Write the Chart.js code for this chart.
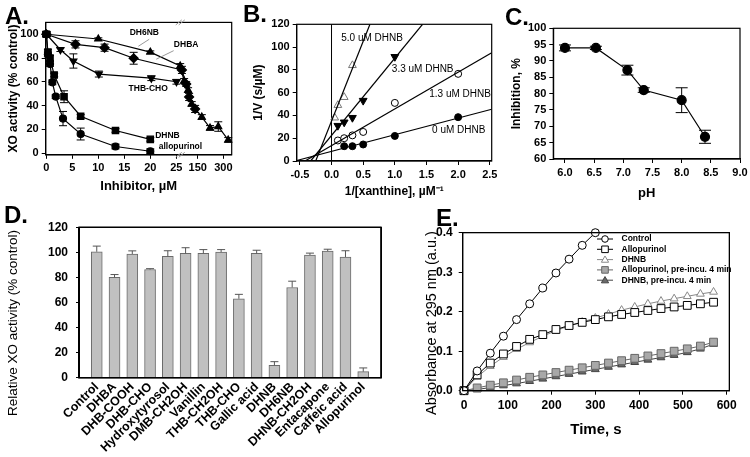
<!DOCTYPE html>
<html>
<head>
<meta charset="utf-8">
<script src="https://cdn.jsdelivr.net/npm/chart.js@4.4.0/dist/chart.umd.min.js"></script>
<style>
  body { margin: 0; width: 750px; height: 457px; background: #fff; position: relative; overflow: hidden; font-family: "Liberation Sans", Arial, sans-serif; }
  .pane { position: absolute; }
  .tag { position: absolute; font-weight: bold; font-size: 24px; line-height: 1; }
  .box { position: absolute; border: 1px solid #000; box-sizing: border-box; pointer-events: none; }
</style>
</head>
<body>
<div class="pane" style="left:0;top:0"><canvas id="chartA" width="245" height="210"></canvas></div>
<div class="pane" style="left:245px;top:0"><canvas id="chartB" width="255" height="210"></canvas></div>
<div class="pane" style="left:500px;top:0"><canvas id="chartC" width="250" height="210"></canvas></div>
<div class="pane" style="left:0;top:205px"><canvas id="chartD" width="415" height="252"></canvas></div>
<div class="pane" style="left:415px;top:205px"><canvas id="chartE" width="335" height="252"></canvas></div>

<div class="tag" style="left:5px;top:4px">A.</div>
<div class="tag" style="left:243px;top:2px">B.</div>
<div class="tag" style="left:505px;top:5px">C.</div>
<div class="tag" style="left:4px;top:203px">D.</div>
<div class="tag" style="left:436px;top:206px">E.</div>

<script>
// ---- Panel A: XO activity vs inhibitor (broken x axis at 25 uM) ----
const aTickValues = [0, 5, 10, 15, 20, 25, 150, 300];
const dh6nbX = [0, 10, 20, 48, 71, 94, 115, 174, 222, 270, 328];
const dh6nbY = [100, 96, 85, 73.3, 60.7, 53, 41.3, 30.3, 21.1, 22.3, 11];
const dh6nbErr = [2, 1, 1, 2, 2, 2, 2, 2, 2, 4, 2];
const dhbaX = [0, 5.6, 11.2, 16.8, 58, 83, 100, 135];
const dhbaY = [100, 91.5, 88.7, 79.8, 70, 58.1, 47.2, 37.1];
const dhbaErr = [2, 3, 3, 5, 3, 2, 3, 3];
const thbX = [0, 2.7, 5.2, 10.1, 20.2, 26];
const thbY = [100, 87, 77.5, 66.5, 63, 60];
const thbErr = [2, 1.5, 6, 2.5, 2, 2];
const dhnbAX = [0, 0.3, 0.7, 1.5, 3.4, 6.6, 13.3, 20];
const dhnbAY = [100, 85, 80, 65.7, 47.4, 31, 19, 11.5];
const dhnbAErr = [2, 2, 2, 1.5, 5, 1.5, 1.5, 1.5];
const alloAX = [0, 0.3, 0.7, 1.15, 1.8, 3.2, 6.6, 13.3, 20];
const alloAY = [100, 83, 75, 59.5, 47.5, 29, 16, 5.5, 1.5];
const alloAErr = [2, 2, 2, 2, 1.5, 6, 5, 2, 2];

// ---- Panel B: Lineweaver-Burk ----
const bLabels = ['0 uM DHNB', '1.3 uM DHNB', '3.3 uM DHNB', '5.0 uM DHNB'];
const bSlope = [14.6, 32.2, 67.9, 140];
const bIntercept = [8.5, 13.5, 22.4, 35];
const b0X = [0.2, 0.33, 0.5, 1.0, 2.0];
const b0Y = [13, 13, 14.5, 22, 38.5];
const b13X = [0.1, 0.2, 0.33, 0.5, 1.0, 2.0];
const b13Y = [18, 20, 22.5, 25.5, 51, 76.5];
const b33X = [0.1, 0.2, 0.33, 0.5, 1.0];
const b33Y = [31, 34, 38, 53, 91.5];
const b50X = [0.05, 0.1, 0.2, 0.33];
const b50Y = [38, 49, 56, 84];

// ---- Panel C: pH dependence ----
const phX = [6.0, 6.53, 7.07, 7.35, 8.0, 8.4];
const phY = [94, 94, 87.2, 81.1, 78, 66.8];
const phErr = [0.9, 0.5, 1.5, 0.7, 3.8, 2];

// ---- Panel D: relative XO activity ----
const dNames = ['Control', 'DHBA', 'DHB-COOH', 'DHB-CHO', 'Hydroxytyrosol', 'DMB-CH2OH', 'Vanillin',
  'THB-CH2OH', 'THB-CHO', 'Gallic acid', 'DHNB', 'DH6NB', 'DHNB-CH2OH', 'Entacapone', 'Caffeic acid', 'Allopurinol'];
const dValues = [100.5, 80, 98.7, 86.3, 96.8, 99.2, 99.2, 100.2, 63, 99.2, 9.8, 72, 97.9, 101, 96.3, 4.8];
const dErr = [4.5, 2.3, 2.5, 0.7, 4.5, 4.5, 3, 2, 3.5, 2.5, 3, 5, 1.5, 1.5, 5, 3];

// ---- Panel E: absorbance time course ----
const eTime = [0, 30, 60, 90, 120, 150, 180, 210, 240, 270, 300, 330, 360, 390, 420, 450, 480, 510, 540, 570];
const eControl = [0, 0.05, 0.095, 0.138, 0.18, 0.22, 0.26, 0.298, 0.333, 0.368, 0.4];
const eAllo = [0, 0.04, 0.07, 0.093, 0.112, 0.13, 0.142, 0.155, 0.165, 0.173, 0.18, 0.187, 0.193, 0.198, 0.203, 0.208, 0.212, 0.216, 0.22, 0.224];
const eDhnb = [0, 0.035, 0.062, 0.085, 0.105, 0.122, 0.138, 0.152, 0.164, 0.174, 0.184, 0.194, 0.204, 0.212, 0.22, 0.227, 0.233, 0.239, 0.245, 0.25];
const eAlloPre = [0, 0.007, 0.014, 0.02, 0.027, 0.034, 0.04, 0.046, 0.052, 0.058, 0.064, 0.07, 0.076, 0.082, 0.088, 0.094, 0.1, 0.106, 0.113, 0.123];
const eDhnbPre = [0, 0.003, 0.008, 0.013, 0.018, 0.024, 0.03, 0.036, 0.042, 0.048, 0.054, 0.06, 0.066, 0.072, 0.078, 0.084, 0.09, 0.097, 0.106, 0.118];

const F = '"Liberation Sans", Arial, sans-serif';
const font = (size, weight) => ({ family: F, size: size, weight: weight || 'bold' });

Chart.defaults.animation = false;
Chart.defaults.font.family = F;
Chart.defaults.color = '#000';

// error bars drawn through each chart's y scale
const errorBars = {
  id: 'errorBars',
  afterDatasetsDraw(chart) {
    const ctx = chart.ctx;
    chart.data.datasets.forEach((ds, i) => {
      if (!ds.errors) return;
      const meta = chart.getDatasetMeta(i);
      const ys = chart.scales[meta.yAxisID];
      ctx.save();
      ctx.strokeStyle = ds.errorColor || '#000';
      ctx.lineWidth = 1;
      meta.data.forEach((el, j) => {
        const e = ds.errors[j];
        if (!e) return;
        const raw = ds.data[j];
        const v = typeof raw === 'object' ? raw.y : raw;
        const hi = ys.getPixelForValue(v + e);
        const lo = ys.getPixelForValue(ds.upOnly ? v : v - e);
        const c = ds.cap || 4;
        ctx.beginPath();
        ctx.moveTo(el.x, lo); ctx.lineTo(el.x, hi);
        ctx.moveTo(el.x - c, hi); ctx.lineTo(el.x + c, hi);
        if (!ds.upOnly) { ctx.moveTo(el.x - c, lo); ctx.lineTo(el.x + c, lo); }
        ctx.stroke();
      });
      ctx.restore();
    });
  }
};

// box round the plot area
function drawFrame(chart) {
  const a = chart.chartArea, ctx = chart.ctx;
  ctx.save();
  ctx.setLineDash([]);
  ctx.strokeStyle = '#000';
  ctx.lineWidth = 1.2;
  ctx.strokeRect(a.left, a.top, a.right - a.left, a.bottom - a.top);
  ctx.restore();
}
const frame = { id: 'frame', afterDraw: drawFrame };
Chart.register(errorBars, frame);

// same box as an html outline over the canvas, in case the canvas stroke is lost
function outline(chart, pageX, pageY) {
  const a = chart.chartArea;
  const d = document.createElement('div');
  d.className = 'box';
  d.style.left = (pageX + a.left - 0.5) + 'px';
  d.style.top = (pageY + a.top - 0.5) + 'px';
  d.style.width = (a.right - a.left + 1) + 'px';
  d.style.height = (a.bottom - a.top + 1) + 'px';
  document.body.appendChild(d);
}

// free text, placed in data units (or pixels with px:true)
function notes(id, items) {
  return {
    id: id,
    afterDraw(chart) {
      const ctx = chart.ctx;
      items.forEach(n => {
        const x = n.px ? n.x : chart.scales.x.getPixelForValue(n.x);
        const y = n.px ? n.y : chart.scales.y.getPixelForValue(n.y);
        ctx.save();
        ctx.font = n.font;
        ctx.fillStyle = n.color || '#000';
        ctx.textAlign = n.align || 'center';
        ctx.textBaseline = 'middle';
        ctx.translate(x, y);
        if (n.rot) ctx.rotate(n.rot);
        ctx.fillText(n.text, 0, 0);
        ctx.restore();
      });
    }
  };
}

function linScale(min, max, ticks, opt) {
  opt = opt || {};
  const s = {
    type: 'linear', min: min, max: max, offset: false,
    afterBuildTicks: sc => { sc.ticks = ticks.map(v => ({ value: v })); },
    ticks: { callback: opt.fmt || (v => v), font: font(opt.size || 11), color: '#000', padding: opt.pad === undefined ? 3 : opt.pad, autoSkip: false, maxRotation: 0, minRotation: 0 },
    grid: { display: true, offset: false, drawOnChartArea: false, drawTicks: true, tickLength: opt.tick || 4, tickColor: '#000', color: '#000' },
    border: { display: true, color: '#000', width: 1.2 },
    title: { display: false }
  };
  if (opt.title) {
    const tf = font(opt.tsize || 12, opt.tweight);
    const pad = opt.toff - tf.size * 0.6;
    s.title = { display: true, text: opt.title, font: tf, color: '#000', padding: opt.vertical ? { top: pad, bottom: 0 } : { top: 0, bottom: pad } };
  }
  return s;
}

// fix the plot area to a page rectangle
function pin(cfg, box, area) {
  cfg.options.layout = { padding: { top: area.t - box.y, right: box.x + box.w - area.r, left: 0, bottom: 0 } };
  cfg.options.scales.x.afterFit = s => {
    s.height = box.y + box.h - area.b;
    s.paddingLeft = 0; s.paddingRight = 0;
  };
  cfg.options.scales.y.afterFit = s => {
    s.width = area.l - box.x;
    s.paddingTop = 0; s.paddingBottom = 0;
  };
  cfg.options.responsive = false;
  cfg.options.maintainAspectRatio = false;
  cfg.options.plugins = Object.assign({ legend: { display: false }, tooltip: { enabled: false } }, cfg.options.plugins || {});
  return cfg;
}

const pts = (xs, ys, fx) => xs.map((x, i) => ({ x: fx ? fx(x) : x, y: ys[i] }));

// ---------- A ----------
const aSqueeze = 0.033;
const axisX = v => v <= 25 ? v : 25 + (v - 25) * aSqueeze;

function aSet(label, xs, ys, errs, style, r, rot) {
  return {
    label: label, data: pts(xs, ys, axisX), errors: errs, cap: 4,
    showLine: true, borderColor: '#000', borderWidth: 1.2,
    pointStyle: style, pointRadius: r, pointRotation: rot || 0,
    pointBackgroundColor: '#000', pointBorderColor: '#000', clip: false
  };
}
const aLeaders = [[19.8, 95.8, 17.7, 89.9], [24.5, 86.2, 21.15, 79]];
const aMarks = {
  id: 'aMarks',
  afterDraw(chart) {
    const xs = chart.scales.x, ys = chart.scales.y, ctx = chart.ctx;
    ctx.save();
    ctx.strokeStyle = '#999';
    ctx.lineWidth = 1;
    ctx.beginPath();
    aLeaders.forEach(l => {
      ctx.moveTo(xs.getPixelForValue(l[0]), ys.getPixelForValue(l[1]));
      ctx.lineTo(xs.getPixelForValue(l[2]), ys.getPixelForValue(l[3]));
    });
    const bx = xs.getPixelForValue(25) + 4;
    [chart.chartArea.top, chart.chartArea.bottom].forEach(y => {
      [-1.5, 1.5].forEach(d => { ctx.moveTo(bx + d - 3, y + 2.5); ctx.lineTo(bx + d + 3, y - 2.5); });
    });
    ctx.stroke();
    ctx.restore();
  }
};
const noteFontA = 'bold 8.5px ' + F;
new Chart(document.getElementById('chartA'), pin({
  type: 'scatter',
  data: {
    datasets: [
      aSet('DH6NB', dh6nbX, dh6nbY, dh6nbErr, 'triangle', 4),
      aSet('DHBA', dhbaX, dhbaY, dhbaErr, 'rectRot', 4.5),
      aSet('THB-CHO', thbX, thbY, thbErr, 'triangle', 4, 180),
      aSet('DHNB', dhnbAX, dhnbAY, dhnbAErr, 'rect', 4.5),
      aSet('allopurinol', alloAX, alloAY, alloAErr, 'circle', 3.5)
    ]
  },
  options: {
    scales: {
      x: linScale(-0.13, 35.67, aTickValues.map(axisX), { fmt: (v, i) => String(aTickValues[i]), title: 'Inhibitor, \u00b5M', tsize: 13, toff: 24 }),
      y: linScale(-1.5, 110, [0, 20, 40, 60, 80, 100], { title: 'XO activity (% control)', tsize: 12, toff: 14, vertical: true })
    }
  },
  plugins: [aMarks, notes('aNotes', [
    { text: 'DH6NB', x: 18.85, y: 101, font: noteFontA },
    { text: 'DHBA', x: 26.9, y: 91, font: noteFontA },
    { text: 'THB-CHO', x: 19.6, y: 53.9, font: noteFontA },
    { text: 'DHNB', x: 23.3, y: 14.3, font: noteFontA },
    { text: 'allopurinol', x: 25.8, y: 5, font: noteFontA }
  ])]
}, { x: 0, y: 0, w: 245, h: 210 }, { l: 45.7, t: 22.4, r: 231.7, b: 154.8 }));

// ---------- B ----------
const bXmin = -0.55, bXmax = 2.53, bYmax = 120;
function fitLine(i) {
  const m = bSlope[i], b = bIntercept[i];
  const x0 = Math.max(bXmin, -b / m), x1 = Math.min(bXmax, (bYmax - b) / m);
  return { label: bLabels[i] + ' fit', data: [{ x: x0, y: m * x0 + b }, { x: x1, y: m * x1 + b }], showLine: true, borderColor: '#000', borderWidth: 1.2, pointRadius: 0 };
}
function bPts(label, xs, ys, style, fill, stroke, r, rot) {
  return { label: label, data: pts(xs, ys), pointStyle: style, pointRadius: r, pointRotation: rot || 0, pointBackgroundColor: fill, pointBorderColor: stroke, pointBorderWidth: 1, showLine: false, clip: false };
}
const bZero = {
  id: 'bZero',
  beforeDatasetsDraw(chart) {
    const x = chart.scales.x.getPixelForValue(0), a = chart.chartArea, ctx = chart.ctx;
    ctx.save();
    ctx.strokeStyle = '#000'; ctx.lineWidth = 1;
    ctx.beginPath(); ctx.moveTo(x, a.top); ctx.lineTo(x, a.bottom); ctx.stroke();
    ctx.restore();
  }
};
const noteFontB = '10px ' + F;
new Chart(document.getElementById('chartB'), pin({
  type: 'scatter',
  data: {
    datasets: [
      fitLine(0), fitLine(1), fitLine(2), fitLine(3),
      bPts(bLabels[0], b0X, b0Y, 'circle', '#000', '#000', 3.5),
      bPts(bLabels[1], b13X, b13Y, 'circle', '#fff', '#000', 3.5),
      bPts(bLabels[2], b33X, b33Y, 'triangle', '#000', '#000', 4.5, 180),
      bPts(bLabels[3], b50X, b50Y, 'triangle', '#fff', '#777', 4.5)
    ]
  },
  options: {
    scales: {
      x: linScale(bXmin, bXmax, [-0.5, 0, 0.5, 1, 1.5, 2, 2.5], { fmt: v => v.toFixed(1), title: '1/[xanthine], \u00b5M\u207b\u00b9', tsize: 12, toff: 18 }),
      y: linScale(0, bYmax, [0, 20, 40, 60, 80, 100, 120], { title: '1/V (s/\u00b5M)', tsize: 12, toff: 13.3, vertical: true })
    }
  },
  plugins: [bZero, notes('bNotes', [
    { text: '5.0 uM DHNB', x: 0.64, y: 108, font: noteFontB },
    { text: '3.3 uM DHNB', x: 1.44, y: 80.8, font: noteFontB },
    { text: '1.3 uM DHNB', x: 2.03, y: 58.8, font: noteFontB },
    { text: '0 uM DHNB', x: 2.01, y: 27.2, font: noteFontB }
  ])]
}, { x: 245, y: 0, w: 255, h: 210 }, { l: 296.7, t: 24.3, r: 491.7, b: 161 }));

// ---------- C ----------
new Chart(document.getElementById('chartC'), pin({
  type: 'scatter',
  data: {
    datasets: [{
      label: 'Inhibition', data: pts(phX, phY), errors: phErr, cap: 6,
      showLine: true, borderColor: '#000', borderWidth: 1.2,
      pointStyle: 'circle', pointRadius: 4.5, pointBackgroundColor: '#000', pointBorderColor: '#000', clip: false
    }]
  },
  options: {
    scales: {
      x: linScale(5.8, 9.0, [6, 6.5, 7, 7.5, 8, 8.5, 9], { fmt: v => v.toFixed(1), title: 'pH', tsize: 13, toff: 17 }),
      y: linScale(60, 100, [60, 65, 70, 75, 80, 85, 90, 95, 100], { title: 'Inhibition, %', tsize: 12, toff: 16.7, vertical: true })
    }
  }
}, { x: 500, y: 0, w: 250, h: 210 }, { l: 553.3, t: 28.3, r: 740, b: 159 }));

// ---------- D ----------
const dIdx = dNames.map((n, i) => i + 1);
const dx = linScale(0, 17, [0].concat(dIdx, [17]), { fmt: v => dNames[v - 1] || '', pad: 2 });
dx.ticks.font = font(12.5);
dx.ticks.maxRotation = 45;
dx.ticks.minRotation = 45;
dx.grid.drawTicks = false;
const dy = linScale(0, 120, [0, 20, 40, 60, 80, 100, 120], { size: 12, pad: 8, tick: 3 });
const chartD = new Chart(document.getElementById('chartD'), pin({
  type: 'bar',
  data: {
    datasets: [{
      label: 'Relative XO activity', data: pts(dIdx, dValues), errors: dErr, upOnly: true, cap: 4, errorColor: '#555',
      backgroundColor: '#c0c0c0', borderColor: '#6a6a6a', borderWidth: 1, barThickness: 11
    }]
  },
  options: { scales: { x: dx, y: dy } },
  plugins: [{ id: 'dFrame', afterDatasetsDraw: drawFrame }, notes('dNotes', [
    { text: 'Relative XO activity (% control)', x: 13.3, y: 118, px: true, rot: -Math.PI / 2, font: '13.5px ' + F }
  ])]
}, { x: 0, y: 205, w: 415, h: 252 }, { l: 79, t: 227.3, r: 381, b: 377.7 }));
outline(chartD, 0, 205);

// ---------- E ----------
function eSet(label, ys, style, fill, stroke, r) {
  return {
    label: label, data: pts(eTime.slice(0, ys.length), ys),
    showLine: true, borderColor: stroke, borderWidth: 1,
    pointStyle: style, pointRadius: r, pointBackgroundColor: fill, pointBorderColor: stroke, pointBorderWidth: 1, clip: false
  };
}
function marker(ctx, style, x, y, r, fill, stroke) {
  ctx.beginPath();
  if (style === 'circle') ctx.arc(x, y, r, 0, Math.PI * 2);
  else if (style === 'rect') ctx.rect(x - r, y - r, 2 * r, 2 * r);
  else { ctx.moveTo(x, y - r * 1.1); ctx.lineTo(x + r * 1.1, y + r * 0.8); ctx.lineTo(x - r * 1.1, y + r * 0.8); ctx.closePath(); }
  ctx.fillStyle = fill; ctx.fill();
  ctx.strokeStyle = stroke; ctx.lineWidth = 1; ctx.stroke();
}
const eLegend = {
  id: 'eLegend',
  afterDraw(chart) {
    const ctx = chart.ctx;
    chart.data.datasets.forEach((ds, i) => {
      const y = 34 + i * 10.3;
      ctx.save();
      ctx.strokeStyle = ds.borderColor; ctx.lineWidth = 1;
      ctx.beginPath(); ctx.moveTo(182, y); ctx.lineTo(198, y); ctx.stroke();
      marker(ctx, ds.pointStyle, 190, y, 3.3, ds.pointBackgroundColor, ds.pointBorderColor);
      ctx.fillStyle = '#000'; ctx.font = 'bold 8.5px ' + F; ctx.textBaseline = 'middle'; ctx.textAlign = 'left';
      ctx.fillText(ds.label, 206.5, y);
      ctx.restore();
    });
  }
};
const chartE = new Chart(document.getElementById('chartE'), pin({
  type: 'scatter',
  data: {
    datasets: [
      eSet('Control', eControl, 'circle', '#fff', '#000', 4),
      eSet('Allopurinol', eAllo, 'rect', '#fff', '#000', 5.5),
      eSet('DHNB', eDhnb, 'triangle', '#fff', '#888', 4.5),
      eSet('Allopurinol, pre-incu. 4 min', eAlloPre, 'rect', '#a8a8a8', '#666', 5.5),
      eSet('DHNB, pre-incu. 4 min', eDhnbPre, 'triangle', '#6a6a6a', '#444', 4.5)
    ]
  },
  options: {
    scales: {
      x: linScale(-3, 606, [0, 100, 200, 300, 400, 500, 600], { size: 12, pad: 4, title: 'Time, s', tsize: 15, toff: 27 }),
      y: linScale(0, 0.4, [0, 0.1, 0.2, 0.3, 0.4], { fmt: v => v.toFixed(1), size: 12, pad: 6 })
    }
  },
  plugins: [eLegend, notes('eNotes', [
    { text: 'Absorbance at 295 nm (a.u.)', x: 17, y: 118, px: true, rot: -Math.PI / 2, font: '14.5px ' + F }
  ])]
}, { x: 415, y: 205, w: 335, h: 252 }, { l: 462.7, t: 232.7, r: 729.3, b: 390.7 }));
outline(chartE, 415, 205);
</script>
</body>
</html>
